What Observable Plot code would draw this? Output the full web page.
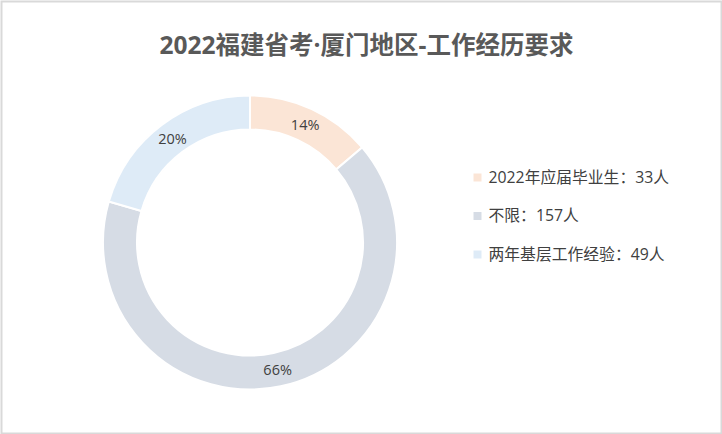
<!DOCTYPE html>
<html>
<head>
<meta charset="utf-8">
<script src="https://cdn.jsdelivr.net/npm/d3@7"></script>
<script src="https://cdn.jsdelivr.net/npm/@observablehq/plot@0.6"></script>
<style>
  html, body { margin: 0; padding: 0; background: #fff; }
  #chart svg { display: block; }
</style>
</head>
<body>
<div id="chart"></div>
<script>
// ---- data ----
const title = "2022福建省考·厦门地区-工作经历要求";
const categories = ["2022年应届毕业生", "不限", "两年基层工作经验"];
const counts = [33, 157, 49];
const percentLabels = ["14%", "66%", "20%"];
const colors = ["#FBE5D6", "#D6DCE5", "#DEEBF7"];

// ---- layout ----
const W = 722, H = 434;
const cx = 250, cy = 242.5, rOuter = 147, rInner = 113;
const font = "'Open Sans', 'Noto Sans CJK SC', sans-serif";

const rows = categories.map((c, i) => ({
  category: c, count: counts[i], pct: percentLabels[i], color: colors[i],
  legend: `${c}：${counts[i]}人`
}));

const pie = d3.pie().sort(null).value(d => d.count)(rows);
const labels = pie.map(p => {
  const mid = (p.startAngle + p.endAngle) / 2;
  const rm = (rInner + rOuter) / 2;
  return { x: cx + rm * Math.sin(mid), y: cy - rm * Math.cos(mid), text: p.data.pct };
});

const arcGen = d3.arc().innerRadius(rInner).outerRadius(rOuter);

function donut(index, scales) {
  const g = d3.create("svg:g")
    .attr("transform", `translate(${scales.x(cx)},${scales.y(cy)})`);
  g.selectAll("path").data(pie).join("path")
    .attr("d", arcGen)
    .attr("fill", d => d.data.color)
    .attr("stroke", "#fff")
    .attr("stroke-width", 2);
  return g.node();
}

const legendX = 477, legendY0 = 177, legendStep = 38.5;
const legendRows = rows.map((r, i) => ({ ...r, lx: legendX, ly: legendY0 + i * legendStep }));

const chart = Plot.plot({
  width: W, height: H,
  margin: 0,
  x: { domain: [0, W], range: [0, W], axis: null },
  y: { domain: [0, H], range: [0, H], axis: null },
  style: { fontFamily: font, background: "#fff" },
  marks: [
    Plot.frame({ stroke: "#d9d9d9", strokeWidth: 2, inset: 1 }),
    donut,
    Plot.text(labels, { x: "x", y: "y", text: "text", fill: "#404040", fontSize: 14.5, fontFamily: font }),
    Plot.text([title], { x: () => 366, y: () => 46, text: d => d, fill: "#595959", fontSize: 24.5, fontWeight: "bold", fontFamily: font }),
    Plot.dot(legendRows, { x: "lx", y: "ly", symbol: "square", r: 4.5, fill: "color", stroke: null }),
    Plot.text(legendRows, { x: d => d.lx + 11, y: "ly", text: "legend", textAnchor: "start", fill: "#404040", fontSize: 15.8, fontFamily: font })
  ]
});
document.getElementById("chart").appendChild(chart);
</script>
</body>
</html>
